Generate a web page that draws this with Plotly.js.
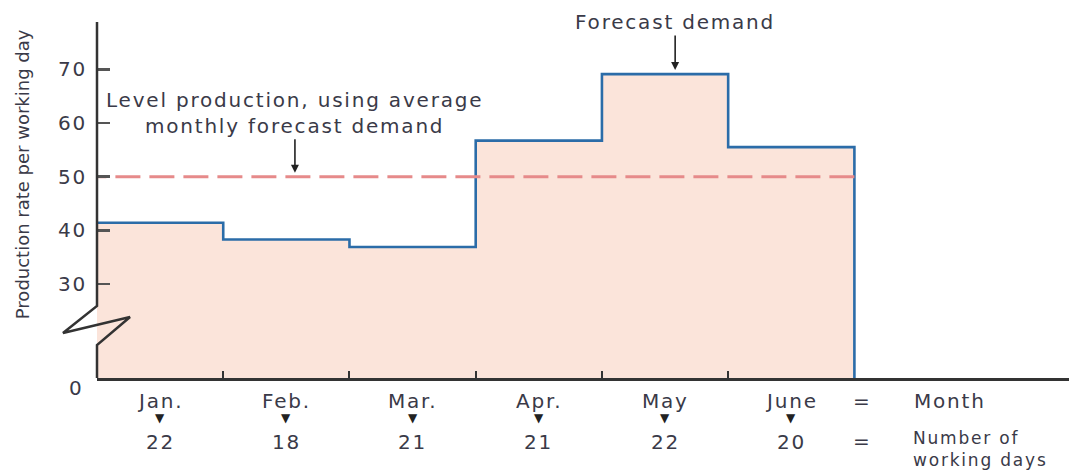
<!DOCTYPE html>
<html>
<head>
<meta charset="utf-8">
<script src="https://cdn.plot.ly/plotly-3.0.1.min.js"></script>
<style>html,body{margin:0;padding:0;background:#fff;}</style>
</head>
<body>
<div id="chart" style="width:1078px;height:471px;"></div>
<script>
// ---- data ----
const months = ["Jan.", "Feb.", "Mar.", "Apr.", "May", "June"];
const workingDays = [22, 18, 21, 21, 22, 20];
const demandRate = [41.4, 38.3, 36.9, 56.7, 69.1, 55.5];   // forecast demand per working day
const levelRate = 50;                                      // level production (average)
const yTickVals = [30, 40, 50, 60, 70];
const yTickText = ["30", "40", "50", "60", "70"];
const floorValue = 0;
const floorLabel = "0";
const yTitle = "Production rate per working day";
const rowLabelMonth = "Month";
const rowLabelDays = ["Number of", "working days"];

// ---- styling helpers ----
const TXT = "#3a3a48";
const FONT = "DejaVu Sans";
const sp = t => '<span style="letter-spacing:1.8px">' + t + '</span>';

const n = months.length;
const stepX = months.map((m, i) => i).concat([n, n]);
const stepY = demandRate.concat([demandRate[n - 1], floorValue]);

const traces = [
  {
    x: stepX, y: stepY, type: "scatter", mode: "lines",
    line: {shape: "hv", color: "#2b6ca8", width: 2.6},
    fill: "tozeroy", fillcolor: "#fbe4da",
    hoverinfo: "skip", showlegend: false
  },
  {
    x: [n, 0], y: [levelRate, levelRate], type: "scatter", mode: "lines",
    line: {color: "#e68a8a", width: 3, dash: "25px,9px"},
    hoverinfo: "skip", showlegend: false
  }
];

const annotations = [];
const fMain = {family: FONT, size: 20, color: TXT};

months.forEach((m, i) => {
  annotations.push({xref: "x", yref: "paper", x: i + 0.5, y: 0, yanchor: "middle",
    yshift: -23, text: sp(m), showarrow: false, font: fMain});
  annotations.push({xref: "x", yref: "paper", x: i + 0.5, y: 0, yanchor: "middle",
    yshift: -40, text: "▼", showarrow: false, font: {family: FONT, size: 12, color: "#222"}});
  annotations.push({xref: "x", yref: "paper", x: i + 0.5, y: 0, yanchor: "middle",
    yshift: -64, text: sp(String(workingDays[i])), showarrow: false, font: fMain});
});

// "=" Month / Number of working days
annotations.push({xref: "paper", yref: "paper", x: 0.797, y: 0, yanchor: "middle", yshift: -23,
  text: "=", showarrow: false, font: fMain});
annotations.push({xref: "paper", yref: "paper", x: 0.797, y: 0, yanchor: "middle", yshift: -63,
  text: "=", showarrow: false, font: fMain});
annotations.push({xref: "paper", yref: "paper", x: 0.8385, xanchor: "left", y: 0, yanchor: "middle",
  yshift: -23, text: sp(rowLabelMonth), showarrow: false, font: fMain});
annotations.push({xref: "paper", yref: "paper", x: 0.8385, xanchor: "left", y: 0, yanchor: "middle",
  yshift: -71, align: "left", borderpad: 0,
  text: sp(rowLabelDays[0]) + "<br>" + sp(rowLabelDays[1]), showarrow: false,
  font: {family: FONT, size: 17, color: TXT}});

// "0" at the axis floor
annotations.push({xref: "paper", yref: "paper", x: 0, xanchor: "right", xshift: -11, y: 0,
  yanchor: "middle", yshift: -10, text: sp(floorLabel), showarrow: false, font: fMain});

// y title
annotations.push({xref: "paper", yref: "paper", x: -0.077, y: 0.573, xanchor: "center", yanchor: "middle",
  textangle: -90, text: yTitle, showarrow: false, font: {family: FONT, size: 18, color: TXT}});

// Forecast demand callout
annotations.push({xref: "x", yref: "y", x: 4.58, y: demandRate[4], ax: 0, ay: -52,
  text: sp("Forecast demand"), showarrow: true, arrowhead: 2, arrowsize: 1, arrowwidth: 1.6,
  arrowcolor: "#222", standoff: 4, font: fMain});

// Level production callout
annotations.push({xref: "x", yref: "y", x: 1.568, y: levelRate, ax: 0, ay: -64,
  text: sp("Level production, using average") + "<br>" + sp("monthly forecast demand"),
  showarrow: true, arrowhead: 2, arrowsize: 1, arrowwidth: 1.6, arrowcolor: "#222",
  standoff: 4, font: fMain});

// y axis line with break (decorative)
const shapes = [
  {type: "path", xref: "paper", yref: "paper",
   path: "M 0 1 L 0 0.2022 L -0.035 0.1264 L 0.034 0.1713 L 0 0.0927 L 0 0",
   line: {color: "#333", width: 2.5}, layer: "above"}
];

const layout = {
  width: 1078, height: 471,
  margin: {l: 97, r: 9, t: 22, b: 93},
  paper_bgcolor: "#fff", plot_bgcolor: "#fff",
  showlegend: false,
  xaxis: {
    range: [0, 7.7], showgrid: false, zeroline: false,
    showline: true, linecolor: "#333", linewidth: 2.5,
    ticks: "inside", tickvals: [1, 2, 3, 4, 5], ticklen: 7, tickwidth: 2, tickcolor: "#333",
    showticklabels: false, fixedrange: true
  },
  yaxis: {
    range: [12.5, 78.8], showgrid: false, zeroline: false, showline: false,
    ticks: "inside", tickvals: yTickVals, ticktext: yTickText.map(sp),
    ticklen: 13, tickwidth: 2.5, tickcolor: "#555",
    ticklabelstandoff: 9,
    tickfont: {family: FONT, size: 20, color: TXT}, fixedrange: true
  },
  annotations: annotations,
  shapes: shapes
};

Plotly.newPlot("chart", traces, layout, {staticPlot: true, displayModeBar: false});
</script>
</body>
</html>
